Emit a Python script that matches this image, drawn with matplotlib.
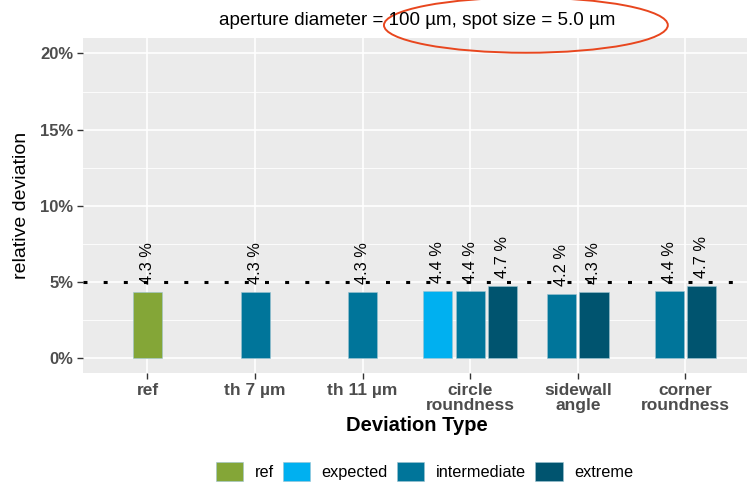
import numpy as np
import matplotlib.pyplot as plt
from matplotlib.patches import Patch, Ellipse

# data
categories = ["ref", "th 7 µm", "th 11 µm", "circle\nroundness", "sidewall\nangle", "corner\nroundness"]
levels = ["ref", "expected", "intermediate", "extreme"]
colors = {"ref": "#84A637", "expected": "#00B0F0", "intermediate": "#00759A", "extreme": "#00546F"}

bar_cat = [0, 1, 2, 3, 3, 3, 4, 4, 5, 5]
bar_level = ["ref", "intermediate", "intermediate", "expected", "intermediate", "extreme",
             "intermediate", "extreme", "intermediate", "extreme"]
bar_value = [4.3, 4.3, 4.3, 4.4, 4.4, 4.7, 4.2, 4.3, 4.4, 4.7]

threshold = 5.0
title = "aperture diameter = 100 µm, spot size = 5.0 µm"

plt.rcParams['font.family'] = ['Liberation Sans', 'DejaVu Sans']

fig = plt.figure(figsize=(7.47, 4.84), dpi=100)
ax = fig.add_axes([0.111, 0.229, 0.893, 0.692])
ax.set_facecolor("#EBEBEB")
for s in ax.spines.values():
  s.set_visible(False)

# dodge positions within each category
counts = np.bincount(bar_cat)
seen = np.zeros(len(categories), dtype=int)
step = 0.3
width = 0.27
for c, lev, v in zip(bar_cat, bar_level, bar_value):
  n = counts[c]
  x = c + (seen[c] - (n - 1) / 2) * step
  seen[c] += 1
  ax.bar(x, v, width=width, color=colors[lev], edgecolor="#9CC3D1", linewidth=0.4, zorder=3)
  ax.text(x, v + 0.55, f"{v:.1f} %", rotation=90, ha="center", va="bottom",
          fontsize=11.8, color="black", zorder=5)

ax.axhline(threshold, color="black", lw=2.2, linestyle=(0, (1.3, 5.3)), zorder=4)

ax.set_xlim(-0.6, 5.6)
ax.set_ylim(-1.0, 21.0)
ax.set_xticks(range(len(categories)))
ax.set_xticklabels(categories, fontsize=12.5, fontweight="bold", color="#4D4D4D", linespacing=1.0)
ax.set_yticks([0, 5, 10, 15, 20])
ax.set_yticklabels(["0%", "5%", "10%", "15%", "20%"], fontsize=12, fontweight="bold", color="#4D4D4D")
ax.set_yticks([2.5, 7.5, 12.5, 17.5], minor=True)
ax.tick_params(axis="both", which="major", length=4, width=1, color="#333333", pad=3)
ax.tick_params(axis="y", which="minor", length=0)
ax.grid(True, which="major", color="white", lw=1.2, zorder=0)
ax.grid(True, which="minor", axis="y", color="white", lw=0.6, zorder=0)
ax.set_axisbelow(True)

ax.set_xlabel("Deviation Type", fontsize=14.5, fontweight="bold", labelpad=2)
ax.set_ylabel("relative deviation", fontsize=14, labelpad=7)
fig.text(0.559, 0.957, title, ha="center", va="center", fontsize=13.6)

handles = [Patch(facecolor=colors[l], edgecolor="#9CC3D1", linewidth=0.4, label=l) for l in levels]
fig.legend(handles=handles, loc="center", bbox_to_anchor=(0.568, 0.026), ncol=4, frameon=False,
           fontsize=11.7, handlelength=1.7, handleheight=1.45, handletextpad=0.7, columnspacing=0.55)

# red annotation ellipse around the title part
fig.patches.append(Ellipse((0.704, 0.948), 0.380, 0.114, transform=fig.transFigure,
                           fill=False, edgecolor="#E8461E", lw=1.4))

fig.savefig("out.png", dpi=100)
